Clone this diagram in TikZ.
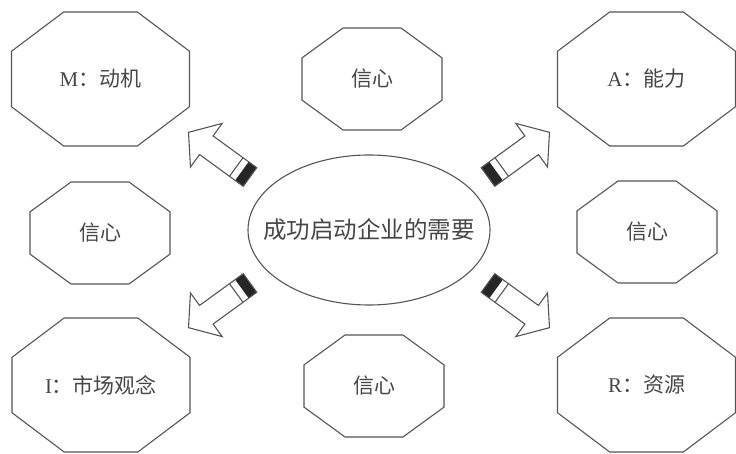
\documentclass[tikz,border=0pt]{standalone}
\usepackage{fontspec}
\newfontfamily\cjk{Noto Sans CJK SC}
\newfontfamily\latn{Liberation Serif}
\usetikzlibrary{calc}
\definecolor{linegray}{RGB}{85,85,85}
\definecolor{textgray}{RGB}{70,70,70}
\tikzset{
  octline/.style={draw=linegray,line width=1.1pt,line join=miter},
  lbl/.style={inner sep=0pt,text=textgray,font=\fontsize{21}{25}\selectfont},
  tailfill/.style={fill=black!85}
}
\newcommand{\octbox}[6]{%
\draw[octline] (#2-#4,#3-0.414*#5) -- (#2-#4,#3+0.414*#5) -- (#2-0.414*#4,#3+#5) -- (#2+0.414*#4,#3+#5)
  -- (#2+#4,#3+0.414*#5) -- (#2+#4,#3-0.414*#5) -- (#2+0.414*#4,#3-#5) -- (#2-0.414*#4,#3-#5) -- cycle;
\node[lbl] (#1) at (#2,#3) {#6};}
\newcommand{\blockarrow}[2]{%
\begin{scope}[shift={#1},rotate=#2]
\fill[tailfill] (0,-11.5) rectangle (10,11.5);
\draw[octline] (17,-11.5) -- (17,11.5);
\draw[octline] (0,-11.5) -- (54,-11.5) -- (54,-27) -- (76,0) -- (54,27) -- (54,11.5) -- (0,11.5) -- cycle;
\end{scope}}

\begin{document}
\begin{tikzpicture}[x=1pt,y=1pt]
\useasboundingbox (0,0) rectangle (736,453);
\octbox{motive}{100.5}{374}{89}{67}{{\latn M}\cjk：动机}
\octbox{ability}{646.5}{374}{89}{67}{{\latn A}\cjk：能力}
\octbox{market}{101}{68}{89}{67}{{\latn I}\cjk：市场观念}
\octbox{resource}{646.5}{68}{89}{67}{{\latn R}\cjk：资源}
\octbox{faithtop}{372}{374}{70}{51}{\cjk 信心}
\octbox{faithbot}{374}{67}{70}{51}{\cjk 信心}
\octbox{faithleft}{100}{220}{70}{51}{\cjk 信心}
\octbox{faithright}{647}{221}{70}{51}{\cjk 信心}
\node[inner sep=0pt,text=textgray,font=\cjk\fontsize{23.5}{28}\selectfont] (hub) at (369,223) {成功启动企业的需要};
\draw[octline] (hub.center) ellipse [x radius=121,y radius=75];
\foreach \dx/\dy/\a in {-119/53/144,-119/-53/216,119/53/36,119/-53/-36}{
\blockarrow{($(hub)+(\dx,\dy)$)}{\a}
}
\end{tikzpicture}
\end{document}
